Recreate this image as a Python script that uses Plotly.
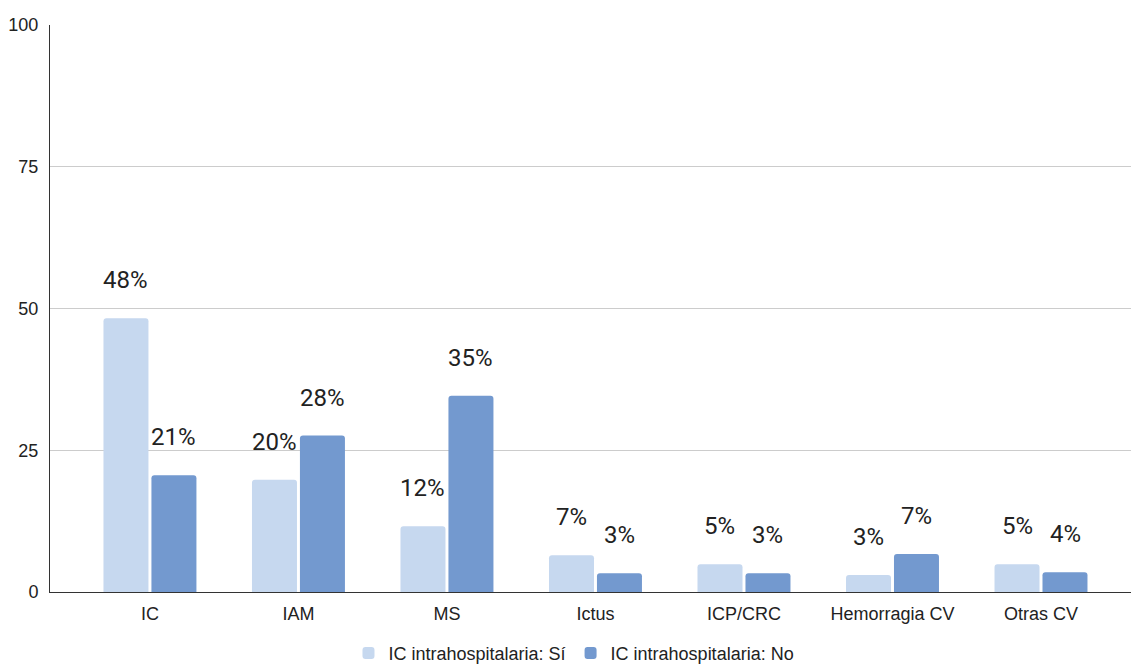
import math
import plotly.graph_objects as go

# Categories and series (percent of patients)
categorias = ["IC", "IAM", "MS", "Ictus", "ICP/CRC", "Hemorragia CV", "Otras CV"]
valores_si = [48.3, 19.8, 11.6, 6.5, 4.9, 3.0, 4.9]
valores_no = [20.6, 27.6, 34.6, 3.3, 3.3, 6.7, 3.5]
nombre_si = "IC intrahospitalaria: Sí"
nombre_no = "IC intrahospitalaria: No"
ticks_y = [0, 25, 50, 75, 100]

color_si = "#c6d8ef"
color_no = "#7399cf"


def etiqueta(v):
    return f"{int(math.floor(v + 0.5))}%"


fig = go.Figure()
fig.add_trace(go.Bar(x=categorias, y=valores_si, name=nombre_si,
                     marker=dict(color=color_si, cornerradius=3, line=dict(width=0))))
fig.add_trace(go.Bar(x=categorias, y=valores_no, name=nombre_no,
                     marker=dict(color=color_no, cornerradius=3, line=dict(width=0))))

# Value labels floating above each bar
annotations = []
for serie, desplaz in ((valores_si, -24), (valores_no, 24)):
    for cat, v in zip(categorias, serie):
        annotations.append(dict(
            x=cat, y=v, xref="x", yref="y", text=etiqueta(v),
            showarrow=False, xanchor="center", yanchor="bottom",
            xshift=desplaz, yshift=22,
            font=dict(family="Roboto", size=24, color="#222222"),
        ))

fig.update_layout(
    width=1131, height=666,
    margin=dict(l=50, r=0, t=25, b=74),
    paper_bgcolor="white", plot_bgcolor="white",
    barmode="group", bargap=0.354, bargroupgap=0.062,
    font=dict(family="Liberation Sans, Arial", size=18, color="#222222"),
    annotations=annotations,
    showlegend=True,
    legend=dict(orientation="h", xref="container", yref="container",
                x=0.5075, xanchor="center", y=0.019, yanchor="middle",
                font=dict(family="Liberation Sans, Arial", size=18, color="#222222"),
                itemsizing="constant", traceorder="normal"),
    xaxis=dict(range=[-0.673, 6.606], showgrid=False, showline=True,
               linecolor="#333333", linewidth=1, ticks="", tickfont=dict(size=18),
               ticklabelstandoff=5, fixedrange=True),
    yaxis=dict(range=[0, 100], tickvals=ticks_y, showgrid=True, gridcolor="#cccccc",
               gridwidth=1, showline=True, linecolor="#333333", linewidth=1,
               ticks="", zeroline=False, tickfont=dict(size=18), ticklabelstandoff=7,
               fixedrange=True),
)

fig.write_html("out.html")
